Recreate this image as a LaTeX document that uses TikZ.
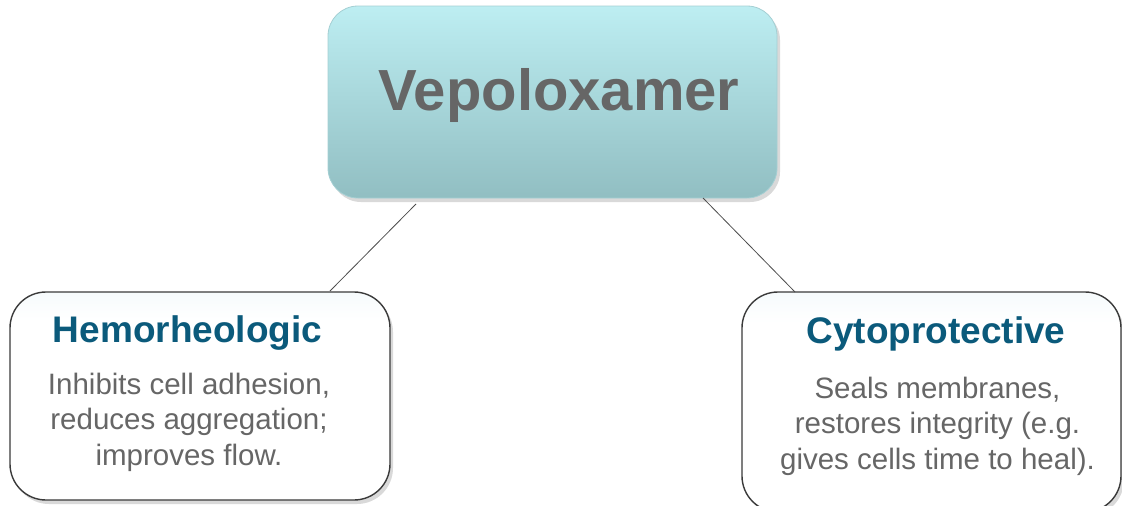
\documentclass[tikz,border=0pt]{standalone}
\usepackage{fontspec}
\setmainfont{Liberation Sans}
\usetikzlibrary{shadows,calc}
\definecolor{topA}{HTML}{BDEEF2}
\definecolor{topB}{HTML}{91BEC2}
\definecolor{topEdge}{HTML}{A4CFD3}
\definecolor{headBlue}{HTML}{0B5A7B}
\definecolor{txtGray}{HTML}{666666}
\definecolor{boxEdge}{HTML}{3A3A3A}
\definecolor{boxTint}{HTML}{D6ECF2}
\pgfdeclareverticalshading{leafshade}{100bp}{color(0bp)=(white); color(68bp)=(white); color(100bp)=(boxTint)}
\tikzset{
  rootbox/.style={rectangle, rounded corners=30pt, top color=topA, bottom color=topB,
    draw=topEdge, line width=0.8pt,
    drop shadow={shadow xshift=3pt, shadow yshift=-4pt, opacity=0.3}},
  leafbox/.style={rectangle, rounded corners=36pt, shading=leafshade,
    draw=boxEdge, line width=1.4pt,
    drop shadow={shadow xshift=3pt, shadow yshift=-4pt, opacity=0.3}},
  roottext/.style={font=\bfseries\fontsize{58}{60}\selectfont, text=txtGray, inner sep=0pt},
  headtext/.style={font=\bfseries\fontsize{37}{40}\selectfont, text=headBlue, inner sep=0pt},
  bodytext/.style={font=\fontsize{29.5}{35.5}\selectfont, text=txtGray, inner sep=0pt, align=center},
  link/.style={draw=black!70, line width=0.8pt}
}
\begin{document}
\begin{tikzpicture}[x=1pt,y=-1pt]
\useasboundingbox (0,0) rectangle (1122,506);
\node[rootbox, minimum width=449pt, minimum height=192pt] (root) at (552.5,102) {};
\node[leafbox, minimum width=380pt, minimum height=208pt] (left) at (200,396) {};
\node[leafbox, minimum width=379pt, minimum height=220pt] (right) at (931.5,402) {};
\node[roottext, anchor=base] (rootlabel) at (559,110) {Vepoloxamer};
\node[headtext, anchor=base] (lefthead) at (187.5,342) {Hemorheologic};
\node[headtext, anchor=base] (righthead) at (936,343) {Cytoprotective};
\node[bodytext, anchor=base] (leftbody) at (189,465) {Inhibits cell adhesion,\\reduces aggregation;\\improves flow.};
\node[bodytext, anchor=base] (rightbody) at (937.5,469) {Seals membranes,\\restores integrity (e.g.\\gives cells time to heal).};
\coordinate (l1) at (416,204);
\coordinate (l2) at (330,291);
\coordinate (r1) at (703,198);
\coordinate (r2) at (795,292);
\draw[link] (l1) -- (l2);
\draw[link] (r1) -- (r2);
\end{tikzpicture}
\end{document}
